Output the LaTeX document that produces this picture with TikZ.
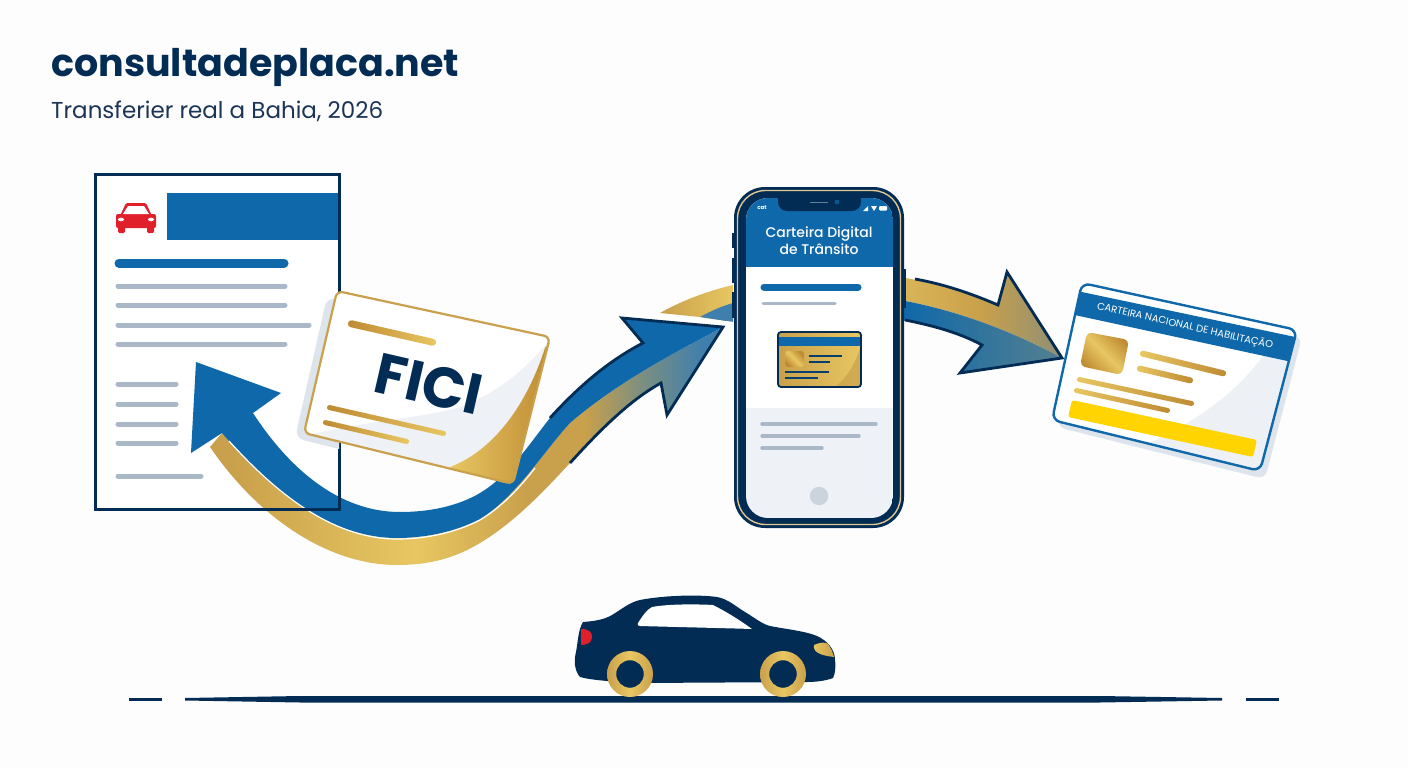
\documentclass[tikz,border=0pt]{standalone}
\usepackage{fontspec}
\setmainfont{Poppins}
\newfontfamily\mediumfont{Poppins Medium}
\definecolor{paper}{HTML}{FDFDFD}
\definecolor{navy}{HTML}{022C54}
\definecolor{subnavy}{HTML}{1C3556}
\definecolor{royal}{HTML}{0E68AA}
\definecolor{goldm}{HTML}{C9A04B}
\definecolor{goldl}{HTML}{E8C762}
\definecolor{goldd}{HTML}{BE8A33}
\definecolor{linegray}{HTML}{A9B7C6}
\definecolor{shadowgray}{HTML}{DDE4EB}
\definecolor{pale}{HTML}{EEF2F7}
\definecolor{midsteel}{HTML}{7D8F7F}
\definecolor{steel}{HTML}{3F7FAD}
\definecolor{tipgold}{HTML}{8F8F75}
\definecolor{tipblue}{HTML}{55808F}
\definecolor{alertred}{HTML}{E0202A}
\definecolor{plateyellow}{HTML}{FFD400}
\pgfdeclarehorizontalshading{ribbongold}{100bp}{
  color(0bp)=(goldm); color(27bp)=(goldm); color(45bp)=(goldl); color(56bp)=(goldm);
  color(61.5bp)=(goldm); color(67bp)=(midsteel); color(73bp)=(steel); color(100bp)=(steel)}
\pgfdeclarehorizontalshading{metalgold}{100bp}{
  color(0bp)=(goldd); color(25bp)=(goldd); color(50bp)=(goldl); color(75bp)=(goldd); color(100bp)=(goldd)}
\tikzset{
  grayline/.style={line width=#1,linegray,line cap=round},
  grayline/.default=5pt,
  blueline/.style={line width=#1,royal,line cap=round},
  arrowedge/.style={navy,line width=2.8pt,line join=miter,miter limit=10},
  barfill/.style={left color=goldd,right color=goldl},
  barfillrev/.style={left color=goldl,right color=goldd},
}
% A rounded bar with a gold gradient running along its length
\newcommand\goldbar[6][barfill]{%
  \pgfmathsetmacro\barang{atan2(-(#5-#3),#4-#2)}%
  \pgfmathsetmacro\barlen{veclen(#4-#2,#5-#3)}%
  \pgfmathsetmacro\barhw{#6/2}%
  \begin{scope}[shift={(#2,#3)},rotate=\barang]
    \shade[#1,rounded corners=\barhw pt] (0,-\barhw) rectangle (\barlen,\barhw);
  \end{scope}}
\newcommand\ficicard{(337,291) -- (550,337) -- (513,484) -- (304,433) -- cycle}
\newcommand\cnhcard{(1082,283) -- (1297,330) -- (1260,471) -- (1052,420) -- cycle}
% Edges of the ribbon running from the document to the phone
\newcommand\ribbonmid{(723,327) .. controls (680,350) and (620,380) .. (570,423) .. controls (545,450) and (515,498) .. (480,519) .. controls (455,532) and (425,538) .. (397,538) .. controls (330,538) and (270,490) .. (222,433)}
\newcommand\ribbontop{(253,413) .. controls (290,470) and (340,512) .. (400,512) .. controls (430,512) and (458,506) .. (480,493) .. controls (510,475) and (530,443) .. (550,418) .. controls (580,385) and (610,360) .. (643,343)}
\begin{document}
\begin{tikzpicture}[x=1pt,y=-1pt]
\useasboundingbox (0,0) rectangle (1408,768);
\fill[paper] (0,0) rectangle (1408,768);

% Heading
\node[anchor=base west,inner sep=0pt,text=navy,font=\fontsize{38}{40}\selectfont\bfseries] (title) at (51,77) {consultadeplaca.net};
\node[anchor=base west,inner sep=0pt,text=subnavy,font=\fontsize{23}{25}\selectfont] (subtitle) at (51,118) {Transferier real a Bahia, 2026};

% Ribbon entering the phone from the left
\shade[left color=goldm,right color=goldl] (660,313) .. controls (683,300) and (708,291) .. (733,285) -- (733,322) -- (700,317) -- cycle;
\fill[steel] (700,317) .. controls (711,311) and (722,306) .. (733,303) -- (733,322) -- cycle;

% Registration document
\fill[white] (95,174) rectangle (339,509);
\fill[royal] (167,193) rectangle (339,240);
\begin{scope}[alertred]
  \fill[rounded corners=2pt] (116,214) -- (156,214) -- (156,228) -- (116,228) -- cycle;
  \fill[rounded corners=1.5pt] (118,224) rectangle (125,233);
  \fill[rounded corners=1.5pt] (147,224) rectangle (154,233);
  \fill[rounded corners=1.5pt] (120,216) -- (126,203) -- (146,203) -- (152,216) -- cycle;
\end{scope}
\fill[white] (123,214) -- (128,206) -- (144,206) -- (149,214) -- cycle;
\fill[white] (121,219.5) ellipse (3 and 1.8);
\fill[white] (151,219.5) ellipse (3 and 1.8);
\draw[blueline=9pt] (119,263) -- (284,263);
\draw[grayline] (118,286) -- (285,286);
\draw[grayline] (118,305) -- (285,305);
\draw[grayline] (118,325) -- (309,325);
\draw[grayline] (118,344) -- (285,344);
\draw[grayline] (118,384) -- (176,384);
\draw[grayline] (118,404) -- (176,404);
\draw[grayline] (118,424) -- (176,424);
\draw[grayline] (118,443) -- (176,443);
\draw[grayline] (118,476) -- (201,476);

% Two-tone ribbon from the document towards the phone
\shade[shading=ribbongold] (210,447) .. controls (260,520) and (330,565) .. (397,565) .. controls (430,565) and (455,558) .. (480,543) .. controls (515,522) and (545,490) .. (570,463) .. controls (600,430) and (630,400) .. (661,383)
  -- (667,415) -- \ribbonmid -- cycle;
\fill[royal] (222,433) -- (191,453) -- (196,362) -- (281,393) -- \ribbontop
  -- (622,318) -- \ribbonmid -- cycle;
\draw[white,line width=1.2pt] (229,441) .. controls (275,492) and (332,539) .. (397,539) .. controls (425,539) and (455,533) .. (480,520) .. controls (500,508) and (518,490) .. (535,468);
\draw[white,line width=6pt] (622,316) -- (735,325);
\draw[arrowedge] (550,418) .. controls (580,385) and (610,360) .. (643,343) -- (622,318) -- (723,327) -- (667,415) -- (661,383) .. controls (630,400) and (600,430) .. (570,463);

% Document outline passes over the ribbon
\draw[navy,line width=3pt] (95,174) rectangle (339,509);

% FICI card with its curled corner
\begin{scope}
  \clip (0,0) rectangle (339,768);
  \fill[shadowgray,rounded corners=9pt] (327,297) -- (540,343) -- (503,490) -- (295,438) -- cycle;
\end{scope}
\fill[white,rounded corners=6pt] \ficicard;
\begin{scope}
  \clip[rounded corners=6pt] \ficicard;
  \fill[pale] (304,437) .. controls (340,425) and (400,420) .. (440,412) .. controls (490,402) and (525,370) .. (550,340) -- (520,490) -- cycle;
\end{scope}
\goldbar{348}{323}{436}{343}{7}
\goldbar[barfill]{327}{407}{446}{434}{5}
\goldbar{323}{422}{409}{442}{5}
\node[inner sep=0pt,text=navy,font=\fontsize{57}{60}\selectfont\bfseries\addfontfeature{Kerning=Off},rotate=-13] (fici) at (429,384) {FICI};
\begin{scope}
  \clip[rounded corners=6pt] \ficicard;
  \shade[left color=goldl,right color=goldd] (450,467) .. controls (490,452) and (525,410) .. (545,348) -- (552,340) -- (515,490) -- cycle;
\end{scope}
\draw[goldm,line width=2.2pt,rounded corners=6pt] \ficicard;

% Ribbon leaving the phone towards the licence
\shade[left color=goldl!55!goldm,right color=tipgold,middle color=goldm] (900,277) .. controls (935,283) and (968,293) .. (998,305) -- (1007,272) -- (1062,358) .. controls (1010,330) and (955,310) .. (900,300) -- cycle;
\shade[left color=royal,right color=tipblue] (900,300) .. controls (955,310) and (1010,330) .. (1062,358) -- (960,373) -- (982,345) .. controls (958,332) and (930,325) .. (900,320) -- cycle;
\draw[arrowedge] (915,279) .. controls (943,284) and (970,293) .. (998,305) -- (1007,272) -- (1062,358) -- (960,373) -- (982,345) .. controls (958,332) and (930,325) .. (905,320);

% Phone body
\fill[navy] (732,233) rectangle (736,248);
\fill[navy] (732,258) rectangle (736,283);
\fill[navy] (732,292) rectangle (736,318);
\fill[navy] (902,269) rectangle (906,308);
\fill[navy,rounded corners=31pt] (734,187) rectangle (904,528);
\draw[goldm!60!white,line width=1.4pt,rounded corners=28pt] (737.5,190.5) rectangle (900.5,524.5);
\begin{scope}
  \clip[rounded corners=22pt] (746,198) rectangle (893,518);
  \fill[white] (746,198) rectangle (893,408);
  \fill[pale] (746,408) rectangle (893,518);
  \fill[royal] (746,198) rectangle (893,267);
\end{scope}
\fill[navy,rounded corners=9pt] (778,192) -- (861,192) -- (861,211) -- (778,211) -- cycle;
\fill[navy] (778,195) rectangle (861,200);
\draw[linegray!60!navy,line width=1pt] (810,202) -- (828,202);
\fill[royal!70!navy] (837,202) circle (2.4);
\node[inner sep=0pt,text=white,font=\fontsize{5.5}{6}\selectfont\bfseries] (status) at (762,208) {cat};
\fill[white] (863,211) -- (868,206) -- (868,211) -- cycle;
\fill[white] (871,206) -- (877,206) -- (874,211) -- cycle;
\fill[white,rounded corners=1pt] (879,206) rectangle (887,210.5);
\node[inner sep=0pt,align=center,text=white,font=\fontsize{14}{17}\selectfont\mediumfont] (phonetitle) at (819,240.5) {Carteira Digital\\de Trânsito};
\draw[blueline=7pt] (764,287) -- (858,287);
\draw[grayline=3pt] (763,303) -- (835,303);

% Licence thumbnail on the phone screen
\begin{scope}
  \clip[rounded corners=3pt] (778,332) rectangle (861,387);
  \shade[left color=goldm,right color=goldl] (778,332) rectangle (861,387);
  \fill[royal] (778,337) rectangle (861,346);
  \fill[goldm,opacity=.7] (835,387) .. controls (850,375) and (856,360) .. (861,346) -- (861,387) -- cycle;
\end{scope}
\draw[navy,line width=1.8pt,rounded corners=3pt] (778,332) rectangle (861,387);
\shade[shading=metalgold,shading angle=45,rounded corners=3pt] (785,351) rectangle (804,367);
\draw[navy!70!royal,line width=1.8pt] (809,356) -- (842,356);
\draw[navy!70!royal,line width=1.8pt] (809,362) -- (830,362);
\draw[navy!70!royal,line width=1.8pt] (785,372) -- (829,372);
\draw[navy!70!royal,line width=1.8pt] (785,378) -- (818,378);

\draw[grayline=3.2pt] (762,424) -- (876,424);
\draw[grayline=3.2pt] (762,436) -- (859,436);
\draw[grayline=3.2pt] (762,448) -- (822,448);
\fill[linegray!60!white] (819,496) circle (9.2);

% Driving licence card
\fill[shadowgray,rounded corners=8pt] (1090,291) -- (1302,337) -- (1265,479) -- (1057,427) -- cycle;
\fill[white,rounded corners=8pt] \cnhcard;
\begin{scope}
  \clip[rounded corners=8pt] \cnhcard;
  \fill[pale!95!shadowgray] (1145,445) .. controls (1190,425) and (1235,395) .. (1262,357) -- (1300,340) -- (1265,480) -- (1130,450) -- cycle;
  \fill[royal] (1077,291) -- (1300,338) -- (1292,362) -- (1070,314) -- cycle;
\end{scope}
\node[inner sep=0pt,text=white,rotate=-12.6,font=\fontsize{10}{11}\selectfont] (cnhtitle) at (1185,326) {CARTEIRA NACIONAL DE HABILITAÇÃO};
\shade[shading=metalgold,shading angle=45,rounded corners=5pt] (1087,332) -- (1129,340) -- (1122,375) -- (1080,366) -- cycle;
\goldbar[barfillrev]{1140}{353}{1226}{374}{6}
\goldbar[barfillrev]{1137}{368}{1193}{381}{6}
\goldbar[barfillrev]{1077}{379}{1194}{404}{5}
\goldbar[barfillrev]{1074}{390}{1170}{411}{5}
\fill[plateyellow,rounded corners=2.5pt] (1072,400) -- (1257,440) -- (1253,457) -- (1068,417) -- cycle;
\draw[royal,line width=2.4pt,rounded corners=8pt] \cnhcard;

% Car on the road
\draw[navy,line width=3pt] (129,699) -- (162,699);
\draw[navy,line width=3pt] (1246,699) -- (1279,699);
\fill[navy] (185,698) -- (300,696) -- (1100,696) -- (1222,698) -- (1222,700.5) -- (1100,702.5) -- (300,702.5) -- (185,700.5) -- cycle;
\fill[navy] (583,622) .. controls (597,621) and (605,619) .. (612,615) .. controls (622,609) and (630,602) .. (640,600) .. controls (660,596) and (695,594) .. (717,597) .. controls (728,599) and (735,606) .. (745,612) .. controls (755,618) and (762,624) .. (770,626) .. controls (785,629) and (805,631) .. (817,636) .. controls (828,641) and (835,650) .. (835,660) .. controls (836,668) and (835,674) .. (833,678) .. controls (825,681) and (815,682) .. (807,682) -- (640,683) .. controls (615,682) and (590,680) .. (580,677) .. controls (574,670) and (574,660) .. (576,652) .. controls (578,642) and (578,630) .. (583,622) -- cycle;
\fill[white] (638,623) .. controls (642,617) and (646,610) .. (652,607) .. controls (668,604) and (695,604) .. (713,605) .. controls (727,612) and (741,621) .. (752,629) .. controls (720,628) and (675,627) .. (640,626) .. controls (638,626) and (637,625) .. (638,623) -- cycle;
\fill[alertred] (581,629) .. controls (590,629) and (592,633) .. (592,637) .. controls (592,642) and (588,645) .. (581,645) -- cycle;
\shade[left color=goldl,right color=goldm] (814,645) .. controls (820,642) and (826,642) .. (828,644) .. controls (831,648) and (833,653) .. (834,657) .. controls (826,656) and (812,654) .. (814,645) -- cycle;
\foreach \cx/\wheelname in {630/rear,783/front}{
  \fill[navy] (\cx,674) circle (14);
  \shade[left color=goldm,right color=goldm,middle color=goldl,even odd rule] (\cx,674) circle (23) (\cx,674) circle (13.8);
}
\end{tikzpicture}
\end{document}
